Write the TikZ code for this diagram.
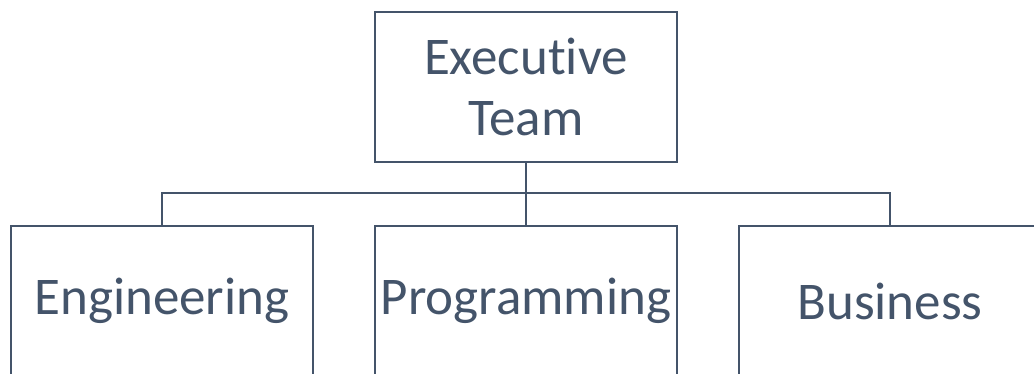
\documentclass[tikz,border=0pt]{standalone}
\usepackage{fontspec}
\setmainfont[Ligatures=NoCommon]{Carlito}
\definecolor{slate}{HTML}{44546A}
\begin{document}
\begin{tikzpicture}[x=1pt,y=-1pt,
  orgbox/.style={draw=slate, line width=2.5pt, rectangle, minimum width=302pt, minimum height=150pt, inner sep=0pt, text=slate, font=\fontsize{53}{61}\selectfont, align=center},
  link/.style={draw=slate, line width=2.5pt}]
\useasboundingbox (0,0) rectangle (1034,373);
\clip (0,0) rectangle (1034,373);
\node[orgbox] (top) at (526,87) {Executive\\Team};
\node[orgbox] (eng) at (162,301) {Engineering};
\node[orgbox] (prog) at (526,301) {Programming};
\node[orgbox] (bus) at (890,301) {Business};
\coordinate (bar) at (526,193);
\draw[link] (top.south) -- (bar);
\draw[link] (bar) -- (prog.north);
\draw[link] (eng.north) |- (bar) -| (bus.north);
\end{tikzpicture}
\end{document}
